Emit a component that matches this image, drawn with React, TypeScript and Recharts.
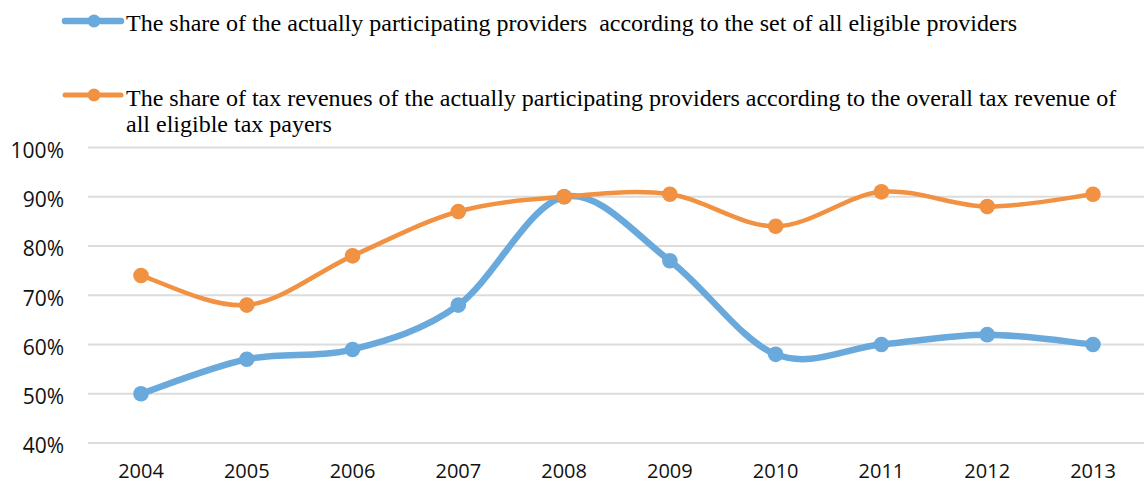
import { LineChart, Line, CartesianGrid, XAxis, YAxis } from 'recharts';

const years = ['2004', '2005', '2006', '2007', '2008', '2009', '2010', '2011', '2012', '2013'];
// share of actually participating providers (% of all eligible providers)
const providerShare = [50, 57, 59, 68, 90, 77, 58, 60, 62, 60];
// share of tax revenues of participating providers (% of overall tax revenue)
const taxRevenueShare = [74, 68, 78, 87, 90, 90.5, 84, 91, 88, 90.5];
const yTicks = [40, 50, 60, 70, 80, 90, 100];

const providerLabel =
  'The share of the actually participating providers  according to the set of all eligible providers';
const revenueLabel =
  'The share of tax revenues of the actually participating providers according to the overall tax revenue of all eligible tax payers';

const BLUE = '#6aa9db';
const ORANGE = '#f19142';

const rows = years.map((year, i) => ({
  year,
  providers: providerShare[i],
  revenue: taxRevenueShare[i],
}));

// Excel-like smoothing (Catmull-Rom style bezier through every point)
const smoothCurve = (context: any) => {
  let pts: [number, number][] = [];
  return {
    areaStart() {},
    areaEnd() {},
    lineStart() {
      pts = [];
    },
    point(x: number, y: number) {
      pts.push([+x, +y]);
    },
    lineEnd() {
      if (!pts.length) return;
      context.moveTo(pts[0][0], pts[0][1]);
      for (let i = 0; i < pts.length - 1; i++) {
        const p0 = pts[Math.max(i - 1, 0)];
        const p1 = pts[i];
        const p2 = pts[i + 1];
        const p3 = pts[Math.min(i + 2, pts.length - 1)];
        context.bezierCurveTo(
          p1[0] + (p2[0] - p0[0]) / 6,
          p1[1] + (p2[1] - p0[1]) / 6,
          p2[0] - (p3[0] - p1[0]) / 6,
          p2[1] - (p3[1] - p1[1]) / 6,
          p2[0],
          p2[1],
        );
      }
    },
  };
};

const tickStyle = { fontSize: 21, fill: '#111', fontFamily: "'Open Sans', sans-serif" };

function LegendIcon({ color, width, top }: { color: string; width: number; top: number }) {
  return (
    <svg
      width={62}
      height={18}
      style={{ position: 'absolute', left: 62, top, overflow: 'visible' }}
    >
      <line x1={3} y1={9} x2={59} y2={9} stroke={color} strokeWidth={width} strokeLinecap="round" />
      <circle cx={32} cy={9} r={6.5} fill={color} />
    </svg>
  );
}

const legendText = {
  position: 'absolute' as const,
  left: 126,
  fontFamily: "'Liberation Serif', 'Times New Roman', serif",
  fontSize: 24,
  lineHeight: '26px',
  color: '#000',
};

export default function App() {
  return (
    <div
      style={{
        position: 'absolute',
        top: 0,
        left: 0,
        width: 1144,
        height: 486,
        overflow: 'hidden',
        background: '#fff',
      }}
    >
      <LineChart
        width={1146}
        height={486}
        data={rows}
        margin={{ top: 147.5, right: 0, bottom: 0, left: 0 }}
      >
        <CartesianGrid vertical={false} stroke="#dcdcdc" strokeWidth={2} />
        <XAxis
          dataKey="year"
          axisLine={false}
          tickLine={false}
          tickSize={0}
          tickMargin={21}
          height={43}
          padding={{ left: 53, right: 53 }}
          tick={{ ...tickStyle, fontSize: 20 }}
        />
        <YAxis
          domain={[40, 100]}
          ticks={yTicks}
          width={88}
          axisLine={false}
          tickLine={false}
          tickSize={0}
          tickMargin={24}
          tickFormatter={(v) => `${v}%`}
          tick={{ ...tickStyle, dy: 3 }}
        />
        <Line
          dataKey="providers"
          type={smoothCurve as any}
          stroke={BLUE}
          strokeWidth={6.5}
          dot={{ r: 7.8, fill: BLUE, stroke: BLUE, strokeWidth: 0 }}
          activeDot={false}
          isAnimationActive={false}
        />
        <Line
          dataKey="revenue"
          type={smoothCurve as any}
          stroke={ORANGE}
          strokeWidth={4.5}
          dot={{ r: 7.8, fill: ORANGE, stroke: ORANGE, strokeWidth: 0 }}
          activeDot={false}
          isAnimationActive={false}
        />
      </LineChart>

      <LegendIcon color={BLUE} width={6.5} top={11.7} />
      <div style={{ ...legendText, top: 10, whiteSpace: 'pre' }}>{providerLabel}</div>

      <LegendIcon color={ORANGE} width={5} top={86} />
      <div style={{ ...legendText, top: 85, width: 1012 }}>{revenueLabel}</div>
    </div>
  );
}
